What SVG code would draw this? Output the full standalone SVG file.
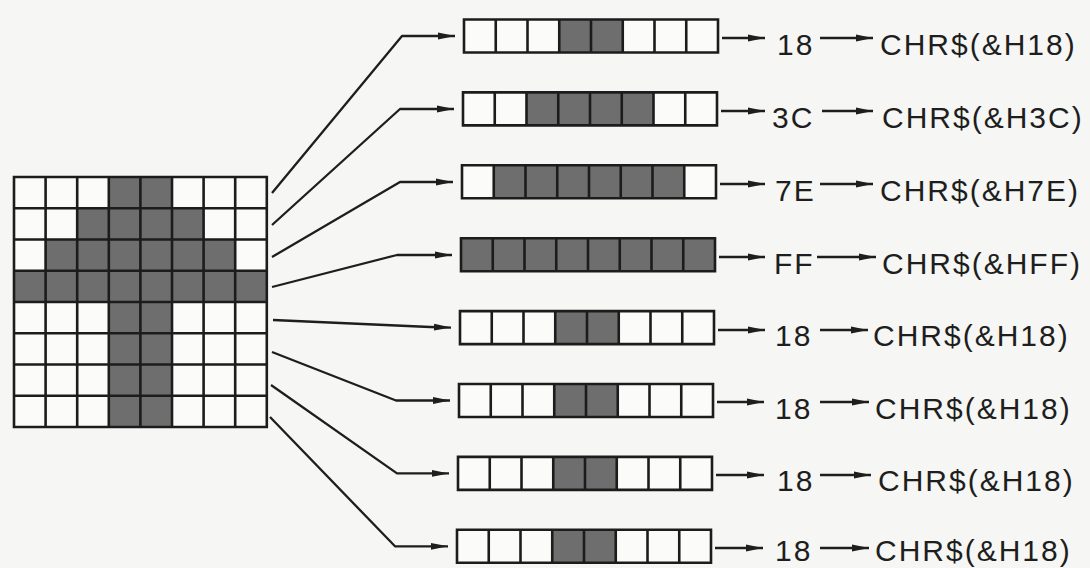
<svg xmlns="http://www.w3.org/2000/svg" xmlns:xlink="http://www.w3.org/1999/xlink" width="1090" height="568" viewBox="0 0 1090 568">
<style>
.bg{fill:#f6f6f4}
.cellw{fill:#fbfbf9}
.dark{fill:#6e6e6e}
.gl{fill:none;stroke:#1c1c1c;stroke-width:2.6}
.con{fill:none;stroke:#1e1e1e;stroke-width:2.3;stroke-linejoin:round}
.t{font-family:"Liberation Sans",Arial,Helvetica,sans-serif;font-size:30px;fill:#1e1e1e;letter-spacing:2px}
</style>
<defs>
<marker id="ah" viewBox="0 0 17 8" refX="17" refY="4" markerWidth="17" markerHeight="8" orient="auto" markerUnits="userSpaceOnUse">
<path d="M0,0.6 L17,4 L0,7.4 Z" fill="#1e1e1e"/>
</marker>
<path id="barLines" class="gl" d="M0,0 H254 V33 H0 Z M31.75,0 V33 M63.5,0 V33 M95.25,0 V33 M127,0 V33 M158.75,0 V33 M190.5,0 V33 M222.25,0 V33"/>
</defs>
<rect class="bg" x="0" y="0" width="1090" height="568"/>

<g id="grid">
<rect class="cellw" x="14" y="177" width="252.8" height="250"/>
<path class="dark" d="M108.8,177 H172 V208.25 H108.8 Z M77.2,208.25 H203.6 V239.5 H77.2 Z M45.6,239.5 H235.2 V270.75 H45.6 Z M14,270.75 H266.8 V302 H14 Z M108.8,302 H172 V427 H108.8 Z"/>
<path class="gl" d="M14,177 H266.8 V427 H14 Z M45.6,177 V427 M77.2,177 V427 M108.8,177 V427 M140.4,177 V427 M172,177 V427 M203.6,177 V427 M235.2,177 V427 M14,208.25 H266.8 M14,239.5 H266.8 M14,270.75 H266.8 M14,302 H266.8 M14,333.25 H266.8 M14,364.5 H266.8 M14,395.75 H266.8"/>
</g>

<g id="row1">
<g transform="translate(464,19.5)"><rect class="cellw" width="254" height="33"/><rect class="dark" x="95.25" width="63.5" height="33"/><use xlink:href="#barLines"/></g>
<text class="t" x="777" y="55">18</text>
<text class="t" x="880" y="55">CHR$(&amp;H18)</text>
</g>
<g id="row2">
<g transform="translate(463,92.4)"><rect class="cellw" width="254" height="33"/><rect class="dark" x="63.5" width="127" height="33"/><use xlink:href="#barLines"/></g>
<text class="t" x="772" y="128">3C</text>
<text class="t" x="882" y="128">CHR$(&amp;H3C)</text>
</g>
<g id="row3">
<g transform="translate(462,165.3)"><rect class="cellw" width="254" height="33"/><rect class="dark" x="31.75" width="190.5" height="33"/><use xlink:href="#barLines"/></g>
<text class="t" x="775" y="201">7E</text>
<text class="t" x="880" y="201">CHR$(&amp;H7E)</text>
</g>
<g id="row4">
<g transform="translate(461,238.2)"><rect class="cellw" width="254" height="33"/><rect class="dark" x="0" width="254" height="33"/><use xlink:href="#barLines"/></g>
<text class="t" x="774" y="274">FF</text>
<text class="t" x="882" y="274">CHR$(&amp;HFF)</text>
</g>
<g id="row5">
<g transform="translate(460,311.1)"><rect class="cellw" width="254" height="33"/><rect class="dark" x="95.25" width="63.5" height="33"/><use xlink:href="#barLines"/></g>
<text class="t" x="775" y="346">18</text>
<text class="t" x="873" y="346">CHR$(&amp;H18)</text>
</g>
<g id="row6">
<g transform="translate(459,384)"><rect class="cellw" width="254" height="33"/><rect class="dark" x="95.25" width="63.5" height="33"/><use xlink:href="#barLines"/></g>
<text class="t" x="775" y="419">18</text>
<text class="t" x="875" y="419">CHR$(&amp;H18)</text>
</g>
<g id="row7">
<g transform="translate(458,456.9)"><rect class="cellw" width="254" height="33"/><rect class="dark" x="95.25" width="63.5" height="33"/><use xlink:href="#barLines"/></g>
<text class="t" x="777" y="491">18</text>
<text class="t" x="878" y="491">CHR$(&amp;H18)</text>
</g>
<g id="row8">
<g transform="translate(457,529.8)"><rect class="cellw" width="254" height="33"/><rect class="dark" x="95.25" width="63.5" height="33"/><use xlink:href="#barLines"/></g>
<text class="t" x="775" y="561">18</text>
<text class="t" x="875" y="561">CHR$(&amp;H18)</text>
</g>

<g id="connectors" class="con">
<polyline points="272,193 402,36 455,36" marker-end="url(#ah)"/>
<polyline points="272,225 400,109 454,109" marker-end="url(#ah)"/>
<polyline points="272,257 400,182 453,182" marker-end="url(#ah)"/>
<polyline points="272,287 397,255 452,255" marker-end="url(#ah)"/>
<polyline points="273,320 430,327 451,327.6" marker-end="url(#ah)"/>
<polyline points="272,352 396,400.5 450,400.5" marker-end="url(#ah)"/>
<polyline points="271,385 397,473.4 449,473.4" marker-end="url(#ah)"/>
<polyline points="270,417 395,546.3 448,546.3" marker-end="url(#ah)"/>
<line x1="722" y1="38" x2="765" y2="38" marker-end="url(#ah)"/>
<line x1="820" y1="38" x2="873" y2="38" marker-end="url(#ah)"/>
<line x1="721" y1="111" x2="765" y2="111" marker-end="url(#ah)"/>
<line x1="822" y1="111" x2="873" y2="111" marker-end="url(#ah)"/>
<line x1="720" y1="184" x2="765" y2="184" marker-end="url(#ah)"/>
<line x1="820" y1="184" x2="873" y2="184" marker-end="url(#ah)"/>
<line x1="719" y1="257" x2="765" y2="257" marker-end="url(#ah)"/>
<line x1="817" y1="257" x2="876" y2="257" marker-end="url(#ah)"/>
<line x1="718" y1="330" x2="765" y2="330" marker-end="url(#ah)"/>
<line x1="820" y1="330" x2="868" y2="330" marker-end="url(#ah)"/>
<line x1="717" y1="402" x2="764" y2="402" marker-end="url(#ah)"/>
<line x1="820" y1="402" x2="869" y2="402" marker-end="url(#ah)"/>
<line x1="716" y1="475" x2="764" y2="475" marker-end="url(#ah)"/>
<line x1="820" y1="475" x2="871" y2="475" marker-end="url(#ah)"/>
<line x1="715" y1="548" x2="763" y2="548" marker-end="url(#ah)"/>
<line x1="820" y1="548" x2="869" y2="548" marker-end="url(#ah)"/>
</g>
</svg>
